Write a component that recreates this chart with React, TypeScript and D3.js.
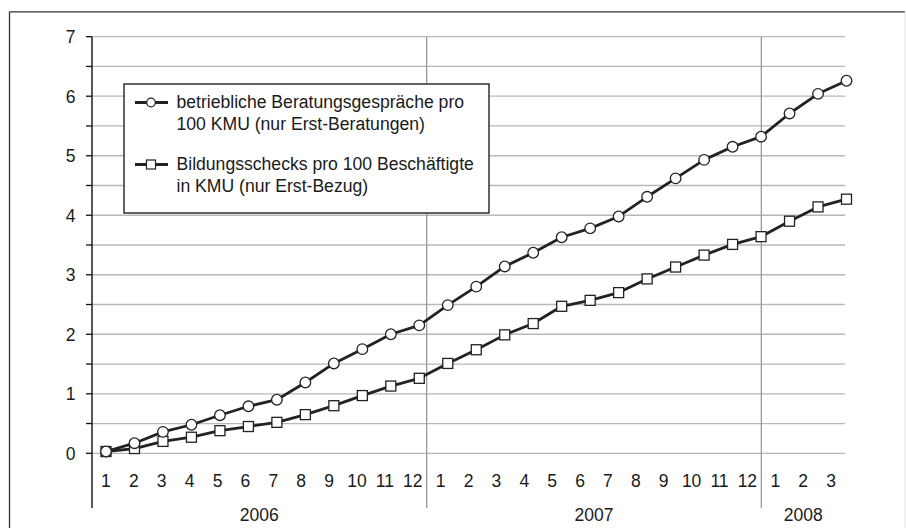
import React from "react";
import * as d3 from "d3";

const years = ["2006", "2007", "2008"];
const monthsPerYear = [12, 12, 3];
const monthLabels: string[] = [
  "1","2","3","4","5","6","7","8","9","10","11","12",
  "1","2","3","4","5","6","7","8","9","10","11","12",
  "1","2","3",
];
const beratungen: number[] = [
  0.03, 0.17, 0.36, 0.48, 0.64, 0.79, 0.9, 1.19, 1.51, 1.75, 2.0, 2.15,
  2.49, 2.8, 3.14, 3.37, 3.63, 3.78, 3.98, 4.31, 4.62, 4.93, 5.15, 5.32,
  5.71, 6.04, 6.26,
];
const bildungsschecks: number[] = [
  0.03, 0.08, 0.2, 0.27, 0.38, 0.45, 0.52, 0.65, 0.8, 0.97, 1.13, 1.26,
  1.51, 1.74, 1.99, 2.18, 2.47, 2.57, 2.7, 2.93, 3.13, 3.33, 3.51, 3.64,
  3.9, 4.14, 4.27,
];
const yTicks = [0, 1, 2, 3, 4, 5, 6, 7];
const legendLabels = [
  ["betriebliche Beratungsgespräche pro", "100 KMU (nur Erst-Beratungen)"],
  ["Bildungsschecks pro 100 Beschäftigte", "in KMU (nur Erst-Bezug)"],
];

const FONT = "'Liberation Sans', Arial, sans-serif";

export default function App() {
  const W = 906, H = 528;
  const left = 92, right = 845, top = 36.7, bottom = 453.3, axisBottom = 508;
  const y = d3.scaleLinear().domain([0, 7]).range([bottom, top]);
  const idx = monthLabels.map((_, i) => i);
  const band = d3.scaleBand<number>().domain(idx).range([left, right]).padding(0);
  const xp = d3.scaleLinear().domain([0, monthLabels.length - 1]).range([106, 846.5]);
  const halfTicks = d3.range(0, 7.01, 0.5);
  const line = d3.line<number>().x((_, i) => xp(i)).y((d) => y(d));

  const cum: number[] = [];
  let acc = 0;
  monthsPerYear.forEach((n) => { cum.push(acc); acc += n; });
  const sepIdx = cum.slice(1);

  const markerColor = "#222";
  const textColor = "#1a1a1a";
  return (
    <svg width={W} height={H} style={{ position: "absolute", left: 0, top: 0, background: "#fff" }}>
      <line x1={9.5} x2={905} y1={11.8} y2={11.8} stroke="#333" strokeWidth={1.3} />
      <line x1={9.5} x2={9.5} y1={11.8} y2={H} stroke="#333" strokeWidth={1.3} />
      <line x1={905} x2={905} y1={11.8} y2={H} stroke="#e4e4e4" strokeWidth={1} />

      {halfTicks.map((t) => (
        <line key={"g" + t} x1={left} x2={right} y1={y(t)} y2={y(t)} stroke="#b8b8b8" strokeWidth={1.3} />
      ))}
      {sepIdx.map((s) => (
        <line key={"s" + s} x1={band(s)!} x2={band(s)!} y1={top} y2={axisBottom} stroke="#999" strokeWidth={1.3} />
      ))}
      <line x1={left} x2={left} y1={top} y2={axisBottom} stroke="#111" strokeWidth={1.4} />
      {halfTicks.map((t) => (
        <line key={"t" + t} x1={left - 6} x2={left} y1={y(t)} y2={y(t)} stroke="#111" strokeWidth={1.3} />
      ))}
      {yTicks.map((t) => (
        <text key={"yl" + t} x={75.5} y={y(t)} dy="0.36em" textAnchor="end" fontFamily={FONT} fontSize={17.5} fill={textColor}>
          {t}
        </text>
      ))}
      {monthLabels.map((m, i) => (
        <text key={"m" + i} x={band(i)! + band.bandwidth() / 2} y={480.5} dy="0.36em" textAnchor="middle" fontFamily={FONT} fontSize={17.5} fill={textColor}>
          {m}
        </text>
      ))}
      {years.map((yr, k) => {
        const a = band(cum[k])!;
        const b = band(cum[k] + monthsPerYear[k] - 1)! + band.bandwidth();
        return (
          <text key={yr} x={(a + b) / 2} y={515} dy="0.36em" textAnchor="middle" fontFamily={FONT} fontSize={17.5} fill={textColor}>
            {yr}
          </text>
        );
      })}

      <path d={line(beratungen)!} fill="none" stroke="#222" strokeWidth={2.8} strokeLinejoin="round" />
      <path d={line(bildungsschecks)!} fill="none" stroke="#222" strokeWidth={2.8} strokeLinejoin="round" />
      {bildungsschecks.map((v, i) => (
        <rect key={"sq" + i} x={xp(i) - 5} y={y(v) - 5} width={10} height={10} fill="#fff" stroke={markerColor} strokeWidth={1.3} />
      ))}
      {beratungen.map((v, i) => (
        <circle key={"c" + i} cx={xp(i)} cy={y(v)} r={5.3} fill="#fff" stroke={markerColor} strokeWidth={1.3} />
      ))}

      <rect x={124} y={84} width={365} height={129} fill="#fff" stroke="#222" strokeWidth={1.4} />
      {legendLabels.map((lines, k) => {
        const cy = k === 0 ? 102.5 : 164.5;
        return (
          <g key={"lg" + k}>
            <line x1={135} x2={168} y1={cy} y2={cy} stroke="#222" strokeWidth={2.8} />
            {k === 0 ? (
              <circle cx={151} cy={cy} r={4.3} fill="#fff" stroke="#222" strokeWidth={1.2} />
            ) : (
              <rect x={146.5} y={cy - 4.5} width={9} height={9} fill="#fff" stroke="#222" strokeWidth={1.2} />
            )}
            {lines.map((t, j) => (
              <text key={j} x={176.5} y={cy - 1 + j * 22.3} dy="0.36em" fontFamily={FONT} fontSize={17.6} fill={textColor}>
                {t}
              </text>
            ))}
          </g>
        );
      })}
    </svg>
  );
}
